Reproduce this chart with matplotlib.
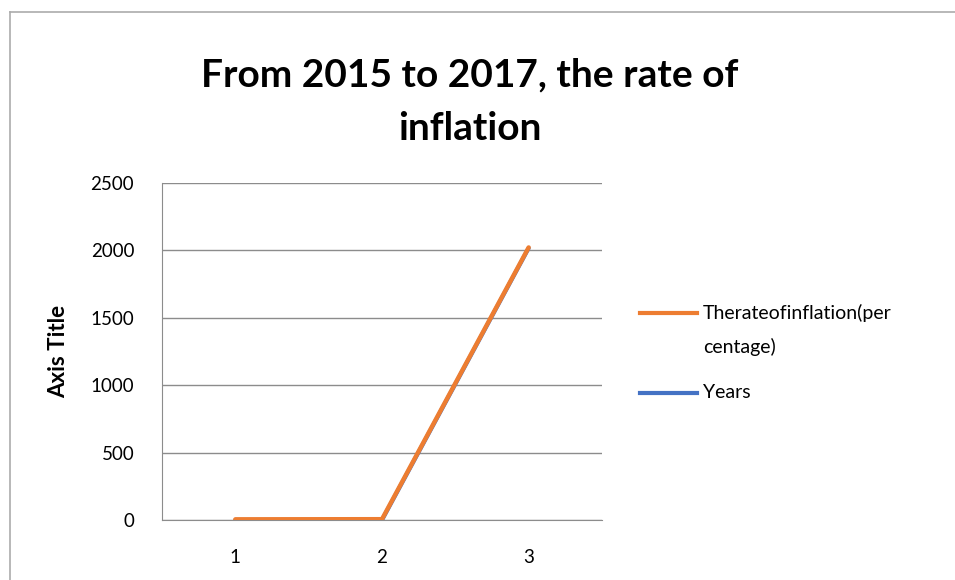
import matplotlib
matplotlib.use("Agg")
import matplotlib.pyplot as plt
from matplotlib.lines import Line2D

categories = [1, 2, 3]
inflation = [5, 6, 2022]
years = [0, 0, 2017]
yticks = [0, 500, 1000, 1500, 2000, 2500]
label_infl = ['Therateofinflation(per', 'centage)']
label_years = 'Years'

plt.rcParams['font.family'] = ['Lato', 'DejaVu Sans']

W, H = 955, 580
fig = plt.figure(figsize=(W / 100, H / 100), dpi=100)


def px(x, y):
    return x / W, 1 - y / H


# chart-area frame (only top and left edges are inside the picture)
fx, fy = px(9.5, 11.5)
fig.add_artist(Line2D([fx, 1.0], [fy, fy], color='#ababab', lw=1.2, transform=fig.transFigure))
fig.add_artist(Line2D([fx, fx], [fy, 0.0], color='#ababab', lw=1.2, transform=fig.transFigure))

ax = fig.add_axes([162 / W, 1 - 520 / H, 440 / W, 337 / H])

ax.plot(categories, years, color='#4472c4', lw=3, solid_capstyle='round', zorder=3)
ax.plot(categories, inflation, color='#ed7d31', lw=3.2, solid_capstyle='round', zorder=4)

ax.set_xlim(0.5, 3.5)
ax.set_ylim(0, 2500)
ax.set_xticks(categories)
ax.set_yticks(yticks)
ax.tick_params(length=0, labelsize=13.5, colors='black')
ax.tick_params(axis='y', pad=20)
ax.tick_params(axis='x', pad=21)
ax.grid(axis='y', color='#8c8c8c', lw=1)
ax.set_axisbelow(True)
for s in ['top', 'right']:
    ax.spines[s].set_visible(False)
for s in ['left', 'bottom']:
    ax.spines[s].set_color('#8c8c8c')
ax.set_ylabel('Axis Title', fontsize=16, fontweight='bold', va='center')
ax.yaxis.set_label_coords(-(162 - 59) / 440, 0.5)

fig.text(470 / W, 1 - 102 / H, 'From 2015 to 2017, the rate of\ninflation', ha='center', va='center',
         fontsize=28, fontweight='bold', linespacing=1.65)

# legend (drawn to match the first-line alignment of the multi-line entry)
for ycen, color in [(313, '#ed7d31'), (393, '#4472c4')]:
    x0, y0 = px(640, ycen)
    x1, _ = px(697, ycen)
    fig.add_artist(Line2D([x0, x1], [y0, y0], color=color, lw=3, transform=fig.transFigure))
fig.text(*px(703, 313), label_infl[0], ha='left', va='center', fontsize=14)
fig.text(*px(703, 347), label_infl[1], ha='left', va='center', fontsize=14)
fig.text(*px(703, 393), label_years, ha='left', va='center', fontsize=14)

fig.savefig('out.png', dpi=100)
